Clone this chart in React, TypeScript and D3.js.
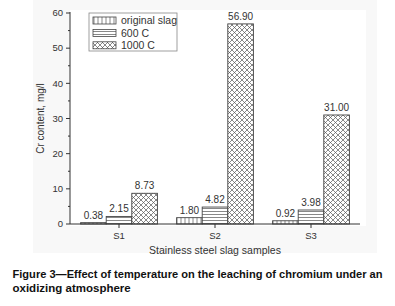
import React from "react";
import * as d3 from "d3";

const categories = ["S1", "S2", "S3"];
const seriesNames = ["original slag", "600 C", "1000 C"];
const originalSlag = [0.38, 1.8, 0.92];
const c600 = [2.15, 4.82, 3.98];
const c1000 = [8.73, 56.9, 31.0];
const yTicks = [0, 10, 20, 30, 40, 50, 60];
const yMinorTicks = [5, 15, 25, 35, 45, 55];

const W = 395;
const H = 306;
const FONT = "'Liberation Sans', Arial, Helvetica, sans-serif";

export default function App() {
  const series = [originalSlag, c600, c1000];
  const patterns = ["patV", "patH", "patX"];
  const x = d3.scaleBand<string>().domain(categories).range([71, 359]).padding(0);
  const x1 = d3
    .scaleBand<number>()
    .domain([0, 1, 2])
    .range([x.bandwidth() * 0.1, x.bandwidth() * 0.9])
    .padding(0);
  const y = d3.scaleLinear().domain([0, 60]).range([224, 13]);
  const fmt = d3.format(".2f");

  return (
    <svg
      width={W}
      height={H}
      style={{ position: "absolute", left: 0, top: 0, background: "#fff" }}
      fontFamily={FONT}
    >
      <defs>
        <pattern id="patV" patternUnits="userSpaceOnUse" width={4} height={4}>
          <rect width={4} height={4} fill="#fff" />
          <line x1={2} y1={0} x2={2} y2={4} stroke="#555" strokeWidth={0.7} />
        </pattern>
        <pattern id="patH" patternUnits="userSpaceOnUse" width={4} height={3}>
          <rect width={4} height={3} fill="#fff" />
          <line x1={0} y1={1.5} x2={4} y2={1.5} stroke="#555" strokeWidth={0.7} />
        </pattern>
        <pattern id="patX" patternUnits="userSpaceOnUse" width={5} height={5}>
          <rect width={5} height={5} fill="#fff" />
          <line x1={0} y1={0} x2={5} y2={5} stroke="#555" strokeWidth={0.7} />
          <line x1={5} y1={0} x2={0} y2={5} stroke="#555" strokeWidth={0.7} />
        </pattern>
      </defs>
      <rect x={33} y={0} width={344} height={253} fill="#f8f8f8" />
      <rect x={70} y={10} width={296} height={216} fill="#fff" />

      {/* bars */}
      {categories.map((c, ci) => (
        <g key={c} transform={`translate(${x(c)},0)`}>
          {series.map((s, si) => {
            const v = s[ci];
            const bx = x1(si)!;
            const bw = x1.bandwidth();
            return (
              <g key={si}>
                <rect
                  x={bx}
                  y={y(v)}
                  width={bw}
                  height={y(0) - y(v)}
                  fill={`url(#${patterns[si]})`}
                  stroke="#444"
                  strokeWidth={0.9}
                />
                <text
                  x={bx + bw / 2}
                  y={y(v) - 4}
                  textAnchor="middle"
                  fontSize={10}
                  fill="#333"
                >
                  {fmt(v)}
                </text>
              </g>
            );
          })}
        </g>
      ))}

      {/* y axis */}
      <line x1={70} y1={y(60) - 1} x2={70} y2={y(0)} stroke="#333" strokeWidth={1} />
      {yTicks.map((t) => (
        <g key={t}>
          <line x1={66} x2={70} y1={y(t)} y2={y(t)} stroke="#333" />
          <text x={63} y={y(t)} dy="0.35em" textAnchor="end" fontSize={9.5} fill="#333">
            {t}
          </text>
        </g>
      ))}
      {yMinorTicks.map((t) => (
        <line key={t} x1={68} x2={70} y1={y(t)} y2={y(t)} stroke="#333" />
      ))}
      <text
        transform={`translate(44,${(y(0) + y(60)) / 2}) rotate(-90)`}
        textAnchor="middle"
        fontSize={10}
        fill="#333"
      >
        Cr content, mg/l
      </text>

      {/* x axis */}
      <line x1={70} x2={360} y1={y(0)} y2={y(0)} stroke="#333" strokeWidth={1} />
      {categories.map((c) => (
        <g key={c}>
          <line
            x1={x(c)! + x.bandwidth() / 2}
            x2={x(c)! + x.bandwidth() / 2}
            y1={y(0)}
            y2={y(0) + 4}
            stroke="#333"
          />
          <text
            x={x(c)! + x.bandwidth() / 2}
            y={239}
            textAnchor="middle"
            fontSize={9.5}
            fill="#333"
          >
            {c}
          </text>
        </g>
      ))}
      <text x={215} y={254} textAnchor="middle" fontSize={10.5} fill="#333">
        Stainless steel slag samples
      </text>

      {/* legend */}
      <rect x={89} y={13} width={88} height={38} fill="#fff" stroke="#888" strokeWidth={0.8} />
      {seriesNames.map((n, i) => (
        <g key={n}>
          <rect
            x={93}
            y={17 + i * 12.4}
            width={23}
            height={7}
            fill={`url(#${patterns[i]})`}
            stroke="#444"
            strokeWidth={0.8}
          />
          <text x={121} y={20.5 + i * 12.4} dy="0.35em" fontSize={10.5} fill="#333">
            {n}
          </text>
        </g>
      ))}

      {/* caption */}
      <text
        x={12.5}
        y={277.5}
        fontSize={11.2}
        fontWeight="bold"
        fill="#111"
        textLength={370}
        lengthAdjust="spacingAndGlyphs"
      >
        Figure 3—Effect of temperature on the leaching of chromium under an
      </text>
      <text x={12.5} y={292} fontSize={11.5} fontWeight="bold" fill="#111">
        oxidizing atmosphere
      </text>
    </svg>
  );
}
